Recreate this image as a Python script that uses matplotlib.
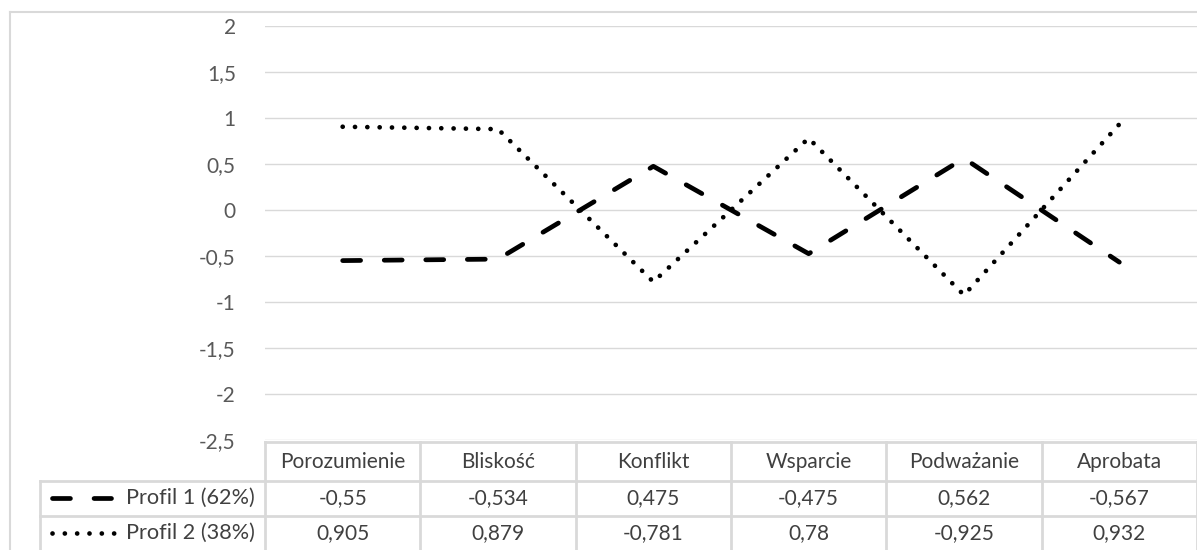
import matplotlib.pyplot as plt
import matplotlib.transforms as mtransforms
from matplotlib.lines import Line2D

categories = ["Porozumienie", "Bliskość", "Konflikt", "Wsparcie", "Podważanie", "Aprobata"]
profil1 = [-0.55, -0.534, 0.475, -0.475, 0.562, -0.567]
profil2 = [0.905, 0.879, -0.781, 0.78, -0.925, 0.932]
series_names = ["Profil 1 (62%)", "Profil 2 (38%)"]
yticks = [2, 1.5, 1, 0.5, 0, -0.5, -1, -1.5, -2, -2.5]

W, H = 1197, 550
plt.rcParams['font.family'] = ['Lato', 'DejaVu Sans']
FS = 15
GRID = '#d9d9d9'
TXT = '#404040'


def fx(px):
    return px / W


def fy(py):
    return 1 - py / H


def fmt(v):
    s = ('%g' % v).replace('.', ',')
    return s


fig = plt.figure(figsize=(W / 100, H / 100), dpi=100)
ax = fig.add_axes([fx(265), fy(440), fx(W - 265), (440 - 26) / H])

x = list(range(len(categories)))
lw = 3.4
dash_style = dict(color='black', lw=lw, dashes=(3.8, 5.0), dash_capstyle='round', solid_capstyle='round')
dot_style = dict(color='black', lw=lw, dashes=(0.01, 2.6), dash_capstyle='round')
ax.plot(x, profil1, **dash_style)
ax.plot(x, profil2, **dot_style)

ax.set_xlim(-0.5, len(categories) - 0.5)
ax.set_ylim(-2.5, 2)
ax.set_yticks(yticks)
ax.set_yticklabels([fmt(t) for t in yticks])
ax.set_xticks([])
ax.tick_params(axis='y', length=0, pad=21, labelsize=FS, labelcolor='#595959')
ax.grid(axis='y', color=GRID, lw=1)
ax.set_axisbelow(True)
for s in ax.spines.values():
    s.set_visible(False)

# outer chart border (top and left)
fig.add_artist(Line2D([fx(10), 1], [fy(12), fy(12)], color=GRID, lw=1.5))
fig.add_artist(Line2D([fx(10), fx(10)], [fy(12), 0], color=GRID, lw=1.5))

# data table below the plot
blend = mtransforms.blended_transform_factory(ax.transData, fig.transFigure)
n = len(categories)
row_top, row1, row2 = 442, 481, 516
tl = dict(color=GRID, lw=2, clip_on=False)
ax.plot([-0.5, n - 0.5], [fy(row_top)] * 2, transform=blend, **tl)
for yy in (row1, row2):
    fig.add_artist(Line2D([fx(40), 1], [fy(yy)] * 2, color=GRID, lw=2))
fig.add_artist(Line2D([fx(40)] * 2, [fy(row1), 0], color=GRID, lw=2))
for i in range(n + 1):
    ax.plot([i - 0.5] * 2, [fy(row_top), 0], transform=blend, **tl)

for i, c in enumerate(categories):
    ax.text(i, fy(462), c, transform=blend, ha='center', va='center', fontsize=FS, color=TXT)
    ax.text(i, fy(498), fmt(profil1[i]), transform=blend, ha='center', va='center', fontsize=FS, color=TXT)
    ax.text(i, fy(533), fmt(profil2[i]), transform=blend, ha='center', va='center', fontsize=FS, color=TXT)

# legend keys in the row headers
fig.add_artist(Line2D([fx(51.5), fx(111)], [fy(498)] * 2, **dash_style))
fig.add_artist(Line2D([fx(52), fx(114)], [fy(533)] * 2, **dot_style))
fig.text(fx(126), fy(498), series_names[0], ha='left', va='center', fontsize=15.6, color=TXT)
fig.text(fx(126), fy(533), series_names[1], ha='left', va='center', fontsize=15.6, color=TXT)

fig.savefig('out.png', dpi=100)
